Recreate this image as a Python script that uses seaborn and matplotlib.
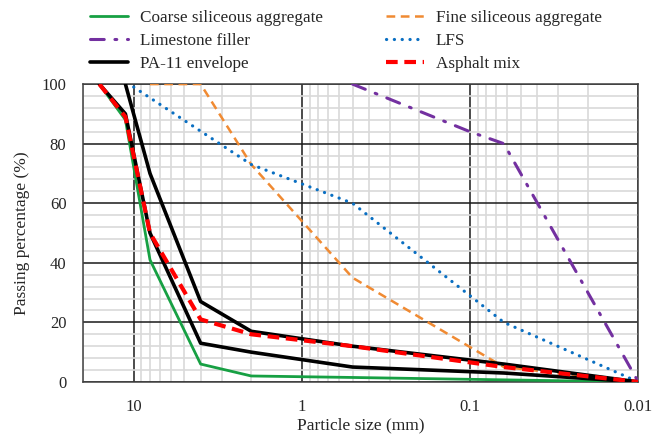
import pandas as pd
import seaborn as sns
import matplotlib.pyplot as plt
from matplotlib.ticker import FixedLocator, FuncFormatter, MultipleLocator, NullFormatter

# particle size (mm) / passing (%)
coarse_x = [16, 11.2, 8, 4, 2, 0.5, 0.063, 0.01]
coarse_y = [100, 88, 41, 6, 2, 1.5, 0.7, 0]

fine_x = [8, 4, 2, 0.5, 0.063, 0.01]
fine_y = [100, 100, 73, 35, 5, 0]

filler_x = [0.5, 0.1, 0.063, 0.01]
filler_y = [100, 84, 80, 0]

lfs_x = [10, 2, 0.5, 0.063, 0.01]
lfs_y = [99, 73, 60, 20, 0]

env_up_x = [11.2, 8, 4, 2, 0.5, 0.063, 0.01]
env_up_y = [100, 70, 27, 17, 12, 6, 0]

env_low_x = [16, 11.2, 8, 4, 2, 0.5, 0.063, 0.01]
env_low_y = [100, 90, 50, 13, 10, 5, 3, 0]

mix_x = [16, 11.2, 8, 4, 2, 0.5, 0.063, 0.01]
mix_y = [100, 89, 50, 21, 16, 12, 5, 0]

x_ticks = [10, 1, 0.1, 0.01]

sns.set_style("white")
plt.rcParams["font.family"] = ["Liberation Serif", "DejaVu Serif"]

fig = plt.figure(figsize=(6.54, 4.38), dpi=100)
ax = fig.add_axes([0.127, 0.128, 0.849, 0.68])


def draw(x, y, **kw):
    df = pd.DataFrame({"size": x, "passing": y})
    sns.lineplot(data=df, x="size", y="passing", sort=False, estimator=None,
                 legend=False, ax=ax, **kw)


draw(coarse_x, coarse_y, color="#17A043", lw=2, label="Coarse siliceous aggregate", zorder=3)
draw(fine_x, fine_y, color="#F08A32", lw=1.8, ls=(0, (3.5, 2.2)), label="Fine siliceous aggregate", zorder=3)
draw(filler_x, filler_y, color="#7330A0", lw=2.2, ls=(0, (4.5, 3.5, 0.6, 3.5)),
     dash_capstyle="round", label="Limestone filler", zorder=3)
draw(lfs_x, lfs_y, color="#0A6FC2", lw=2.3, ls=(0, (0.05, 2.4)),
     dash_capstyle="round", label="LFS", zorder=3)
draw(env_up_x, env_up_y, color="black", lw=2.6, label="PA-11 envelope", zorder=4)
draw(env_low_x, env_low_y, color="black", lw=2.6, zorder=4)
draw(mix_x, mix_y, color="#FF0000", lw=3, ls=(0, (2.8, 1.6)), label="Asphalt mix", zorder=5)

ax.set_xscale("log")
ax.set_xlim(20, 0.01)
ax.set_ylim(0, 100)

ax.xaxis.set_major_locator(FixedLocator(x_ticks))
ax.xaxis.set_major_formatter(FuncFormatter(lambda v, p: f"{v:g}"))
minor = [m * 10.0 ** e for e in range(-2, 2) for m in range(2, 10) if m * 10.0 ** e <= 20]
ax.xaxis.set_minor_locator(FixedLocator(minor))
ax.xaxis.set_minor_formatter(NullFormatter())
ax.yaxis.set_major_locator(MultipleLocator(20))
ax.yaxis.set_minor_locator(MultipleLocator(4))

ax.grid(which="minor", color="#d9d9d9", lw=1.2, zorder=0)
ax.grid(which="major", color="#1a1a1a", lw=1.1, zorder=1)
ax.set_axisbelow(True)
for s in ax.spines.values():
    s.set_color("#404040")
    s.set_linewidth(1.1)

ax.tick_params(which="both", length=0, labelsize=12)
ax.tick_params(axis="x", pad=12)
ax.tick_params(axis="y", pad=12)
ax.set_xlabel("Particle size (mm)", fontsize=12.5, labelpad=2)
ax.set_ylabel("Passing percentage (%)", fontsize=12.5, labelpad=8)

h, l = ax.get_legend_handles_labels()
order = ["Coarse siliceous aggregate", "Limestone filler", "PA-11 envelope",
         "Fine siliceous aggregate", "LFS", "Asphalt mix"]
hd = dict(zip(l, h))
fig.legend([hd[k] for k in order], order, loc="upper center", bbox_to_anchor=(0.529, 1.012),
           ncol=2, frameon=False, fontsize=12.3, handlelength=2.2, handletextpad=0.7,
           columnspacing=3.7, labelspacing=0.42)

fig.savefig("out.png", dpi=100)
